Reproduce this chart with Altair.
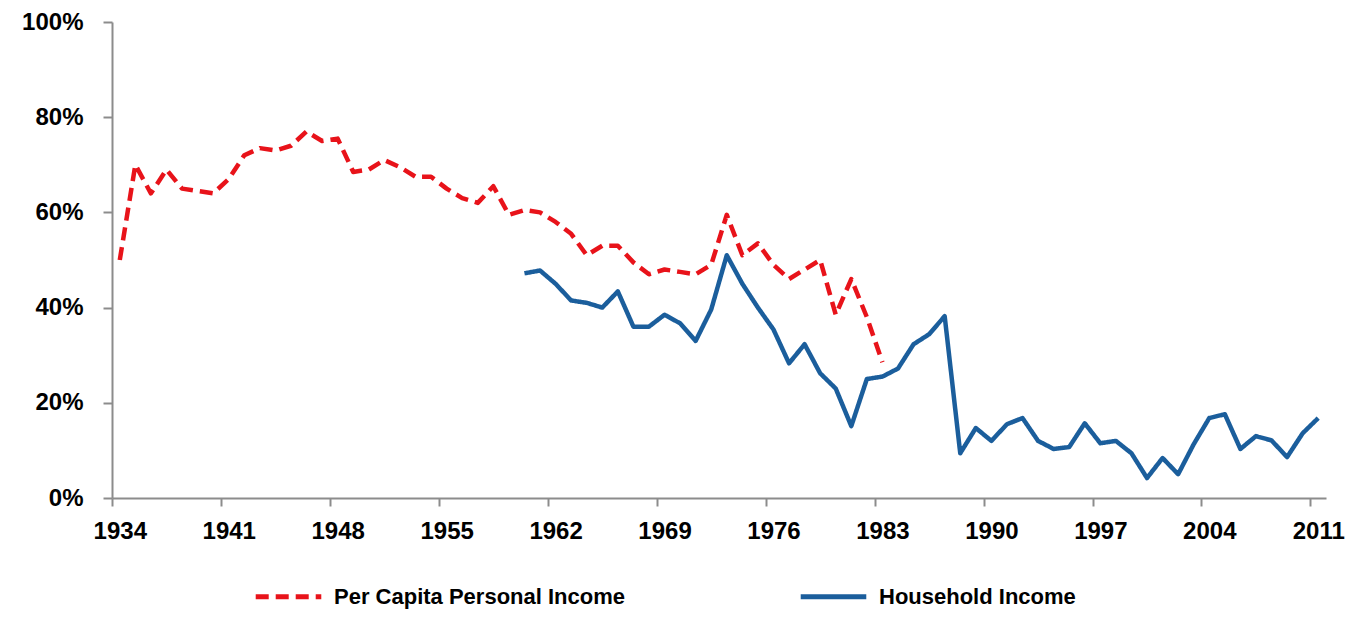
import altair as alt
import pandas as pd

# ---- data ----
red_name = "Per Capita Personal Income"
blue_name = "Household Income"

red_years = list(range(1934, 1984))
red_values = [50, 70, 64, 69, 65, 64.5, 64, 67, 72, 73.5,
              73, 74, 77, 75, 75.5, 68.5, 69, 71, 69.5, 67.5,
              67.5, 65, 63, 62, 65.5, 59.5,
              60.5, 60, 58, 55.5, 51, 53, 53, 49.5, 47, 48,
              47.5, 47, 49, 59.5, 51, 53.5, 49, 46, 48, 50,
              38.5, 46, 38, 28.5]

blue_years = list(range(1960, 2012))
blue_values = [47.2, 47.8, 45, 41.5, 41, 40, 43.4, 36, 36, 38.5,
               36.7, 33, 39.6, 51, 45, 40, 35.4, 28.3, 32.3, 26.2,
               23, 15.1, 25, 25.5, 27.2, 32.3, 34.4, 38.2, 9.4, 14.7,
               12, 15.5, 16.8, 12, 10.3, 10.7, 15.7, 11.5, 12, 9.4,
               4.2, 8.4, 5, 11.3, 16.8, 17.6, 10.3, 13, 12.1, 8.6,
               13.6, 16.8]

x_tick_values = [1933.5 + 7 * k for k in range(12)]
y_tick_values = [0, 20, 40, 60, 80, 100]

series_names = [red_name, blue_name]
series_colors = ["#E8131A", "#1B5E9C"]
series_dashes = [[13, 7], [1, 0]]

df = pd.concat([
    pd.DataFrame({"year": red_years, "value": red_values, "series": red_name}),
    pd.DataFrame({"year": blue_years, "value": blue_values, "series": blue_name}),
])

FONT = "Liberation Sans"

legend_opts = dict(title=None, orient="none", legendX=141, legendY=539,
                   direction="horizontal", symbolType="stroke",
                   symbolSize=4300, symbolStrokeWidth=5,
                   labelOffset=10, columnPadding=165, labelLimit=500)

chart = alt.Chart(df).mark_line(strokeWidth=4.5, strokeCap="butt", strokeJoin="round").encode(
    x=alt.X("year:Q",
            scale=alt.Scale(domain=[1933.5, 2011.5], nice=False, zero=False),
            axis=alt.Axis(values=x_tick_values, title=None, grid=False,
                          labelExpr="format(datum.value + 0.5, 'd')",
                          labelOffset=7.8, labelFlush=False, labelOverlap=False,
                          tickSize=8, labelPadding=13)),
    y=alt.Y("value:Q",
            scale=alt.Scale(domain=[0, 100], nice=False),
            axis=alt.Axis(values=y_tick_values, title=None, grid=False,
                          labelExpr="datum.value + '%'",
                          tickSize=9, labelPadding=20)),
    color=alt.Color("series:N",
                    scale=alt.Scale(domain=series_names, range=series_colors),
                    legend=alt.Legend(**legend_opts)),
    strokeDash=alt.StrokeDash("series:N",
                              scale=alt.Scale(domain=series_names, range=series_dashes),
                              legend=alt.Legend(**legend_opts)),
    order=alt.Order("year:Q"),
).properties(
    width=1214,
    height=476,
    autosize=alt.AutoSizeParams(type="none"),
    padding={"left": 104, "top": 14, "right": 20, "bottom": 111},
).configure_view(
    stroke=None
).configure_axis(
    domainColor="#8C8C8C", domainWidth=2, tickColor="#8C8C8C", tickWidth=2,
    labelFont=FONT, labelFontSize=24, labelFontWeight="bold", labelColor="#000000",
).configure_legend(
    labelFont=FONT, labelFontSize=22, labelFontWeight="bold", labelColor="#000000",
)

chart.save("out.html", embed_options={"renderer": "svg", "actions": False})
